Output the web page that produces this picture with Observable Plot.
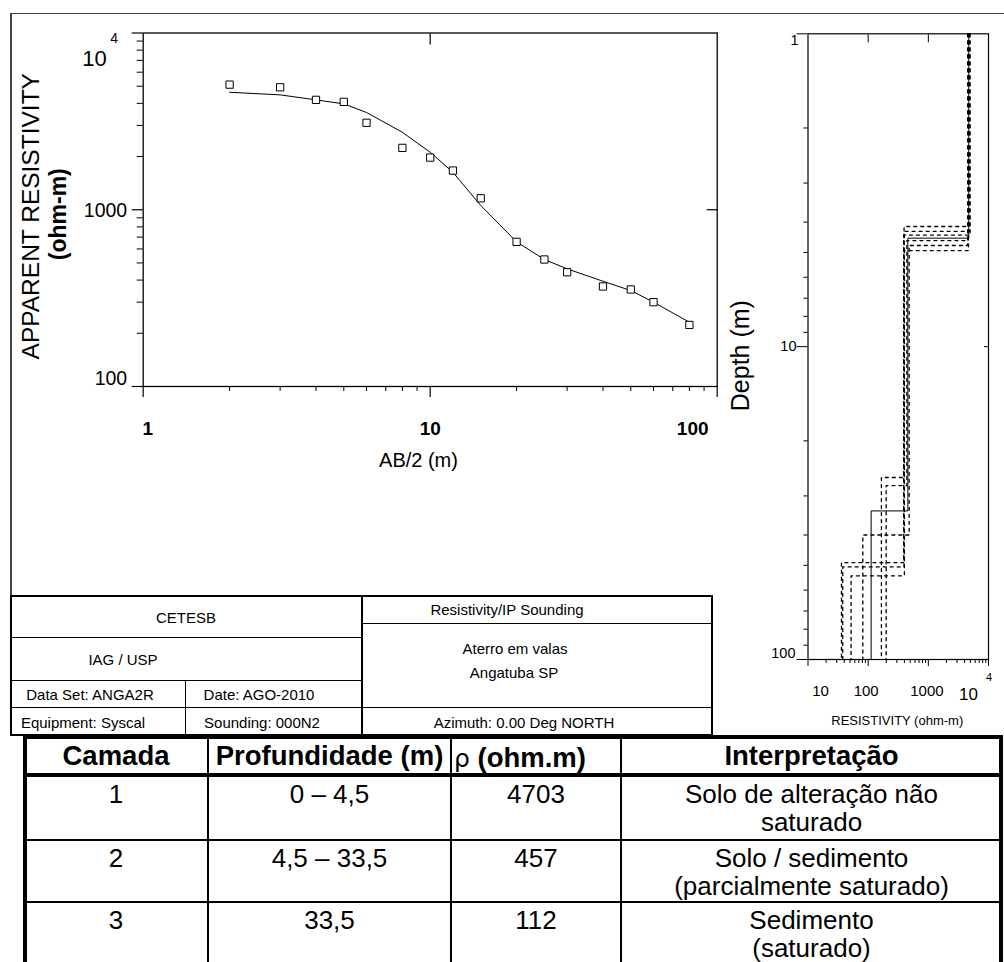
<!DOCTYPE html>
<html><head><meta charset="utf-8">
<script src="https://cdn.jsdelivr.net/npm/d3@7"></script>
<script src="https://cdn.jsdelivr.net/npm/@observablehq/plot@0.6"></script>
<style>
html,body{margin:0;padding:0;background:#fff;}
body{width:1004px;height:962px;overflow:hidden;}
#page{position:relative;width:1004px;height:962px;font-family:"Liberation Sans",Arial,sans-serif;color:#000;}
.abs{position:absolute;}
.t{position:absolute;white-space:nowrap;transform:translate(-50%,-50%);line-height:1;}
.tl{position:absolute;white-space:nowrap;transform:translate(0,-50%);line-height:1;}
.plotbox{position:absolute;}
</style></head><body>
<div id="page"></div>
<script>
// ---------------- data ----------------
// Sounding curve (left chart)
const abHalf      = [2, 3, 4, 5, 6, 8, 10, 12, 15, 20, 25, 30, 40, 50, 60, 80];
const rhoObserved = [5105, 4930, 4185, 4077, 3104, 2239, 1973, 1666, 1161, 658, 523, 443, 368, 354, 300, 223];
const rhoModel    = [4620, 4467, 4185, 3972, 3550, 2744, 2115, 1630, 1057, 658, 523, 463, 394, 349, 300, 231];

const abMajorTicks  = [1, 10, 100];
const abMinorTicks  = [2, 3, 4, 5, 6, 7, 8, 9, 20, 30, 40, 50, 60, 70, 80, 90];
const abTickLabels  = ["1", "10", "100"];
const rhoMajorTicks = [100, 1000, 10000];
const rhoMinorTicks = [200, 300, 400, 500, 600, 700, 800, 900, 2000, 3000, 4000, 5000, 6000, 7000, 8000, 9000];
const rhoTickLabels = ["100", "1000", "10"];   // 10 with superscript 4

// Layered model (right chart): best model + equivalent models
const modelNames  = ["best", "eq1", "eq2", "eq3", "eq4", "eq5", "eq6"];
const layerRho    = [[4703, 457, 112], [4600, 440, 199], [4850, 395, 166], [4500, 480, 81.5],
                     [4750, 395, 37.8], [4650, 400, 52], [4950, 390, 36]];
const layerBottom = [[4.5, 33.5], [4.58, 27.8], [4.28, 26.2], [4.75, 40],
                     [4.13, 50.6], [4.93, 54], [4.4, 49]];
const depthMajorTicks = [1, 10, 100];
const depthMinorTicks = [2, 3, 4, 5, 6, 7, 8, 9, 20, 30, 40, 50, 60, 70, 80, 90];
const depthTickLabels = ["1", "10", "100"];
const resMajorTicks = [10, 100, 1000, 10000];
const resMinorTicks = [20, 30, 40, 50, 60, 70, 80, 90, 200, 300, 400, 500, 600, 700, 800, 900,
                       2000, 3000, 4000, 5000, 6000, 7000, 8000, 9000];
const resTickLabels = ["10", "100", "1000", "10"];

// Info box
const infoLeft  = ["CETESB", "IAG / USP", "Data Set: ANGA2R", "Date: AGO-2010", "Equipment: Syscal", "Sounding: 000N2"];
const infoRight = ["Resistivity/IP Sounding", "Aterro em valas", "Angatuba SP", "Azimuth: 0.00 Deg NORTH"];

// Interpretation table
const tableHeader   = ["Camada", "Profundidade (m)", "(ohm.m)", "Interpretação"];
const camada        = ["1", "2", "3"];
const profundidade  = ["0 – 4,5", "4,5 – 33,5", "33,5"];
const rhoLayer      = ["4703", "457", "112"];
const interpretacao = [["Solo de alteração não", "saturado"], ["Solo / sedimento", "(parcialmente saturado)"], ["Sedimento", "(saturado)"]];

// ---------------- helpers ----------------
const FONT = '"Liberation Sans", Arial, sans-serif';
const page = document.getElementById("page");
function rect(x, y, w, h, color = "#000") {
  const d = document.createElement("div");
  d.className = "abs";
  Object.assign(d.style, {left: x + "px", top: y + "px", width: w + "px", height: h + "px", background: color});
  page.appendChild(d);
}
function txt(text, cx, cy, size, weight = "normal", cls = "t") {
  const d = document.createElement("div");
  d.className = cls;
  d.textContent = text;
  Object.assign(d.style, {left: cx + "px", top: cy + "px", fontSize: size + "px", fontWeight: weight});
  page.appendChild(d);
  return d;
}
const noText = () => "";

// ---------------- outer frame ----------------
rect(10, 12.5, 1000, 1.5, "#444");
rect(10, 12.5, 1.5, 583, "#444");

// ---------------- left chart ----------------
const sounding = abHalf.map((x, i) => ({x, obs: rhoObserved[i], mod: rhoModel[i]}));
const left = Plot.plot({
  width: 730, height: 480,
  marginLeft: 142.7, marginRight: 13.3, marginTop: 32.5, marginBottom: 94,
  style: {background: "transparent", fontFamily: FONT, color: "#000", overflow: "visible"},
  x: {type: "log", domain: [1, 100], axis: null},
  y: {type: "log", domain: [100, 10000], axis: null},
  marks: [
    Plot.frame({stroke: "#000", strokeWidth: 1.3}),
    Plot.axisY(rhoMajorTicks, {anchor: "left", tickSize: 11, tickFormat: noText, label: null, strokeWidth: 1.2}),
    Plot.axisY(rhoMinorTicks, {anchor: "left", tickSize: 6, tickFormat: noText, label: null}),
    Plot.axisY([1000], {anchor: "right", tickSize: -11, tickFormat: noText, label: null, strokeWidth: 1.2}),
    Plot.axisX(abMajorTicks, {anchor: "bottom", tickSize: 11, tickFormat: noText, label: null, strokeWidth: 1.2}),
    Plot.axisX(abMinorTicks, {anchor: "bottom", tickSize: 5, tickFormat: noText, label: null}),
    Plot.axisX([10], {anchor: "top", tickSize: -11, tickFormat: noText, label: null, strokeWidth: 1.2}),
    Plot.line(sounding, {x: "x", y: "mod", stroke: "#000", strokeWidth: 1}),
    Plot.dot(sounding, {x: "x", y: "obs", symbol: "square", r: 4.1, stroke: "#000", fill: "white", strokeWidth: 1}),
    // y tick labels
    Plot.text([rhoMajorTicks[0]], {y: d => d, frameAnchor: "left", text: () => rhoTickLabels[0], textAnchor: "end", dx: -16, dy: -8, fontSize: 19.5}),
    Plot.text([rhoMajorTicks[1]], {y: d => d, frameAnchor: "left", text: () => rhoTickLabels[1], textAnchor: "end", dx: -16, dy: 1, fontSize: 19.5}),
    Plot.text([rhoMajorTicks[2]], {y: d => d, frameAnchor: "left", text: () => rhoTickLabels[2], textAnchor: "middle", dx: -48.7, dy: 25.5, fontSize: 22}),
    Plot.text([rhoMajorTicks[2]], {y: d => d, frameAnchor: "left", text: () => "4", textAnchor: "middle", dx: -29, dy: 5.5, fontSize: 14}),
    // x tick labels
    Plot.text([abMajorTicks[0]], {x: d => d, frameAnchor: "bottom", text: () => abTickLabels[0], dx: 4.5, dy: 48, fontSize: 19, fontWeight: "bold"}),
    Plot.text([abMajorTicks[1]], {x: d => d, frameAnchor: "bottom", text: () => abTickLabels[1], dx: 0, dy: 48, fontSize: 19, fontWeight: "bold"}),
    Plot.text([abMajorTicks[2]], {x: d => d, frameAnchor: "bottom", text: () => abTickLabels[2], dx: -24.5, dy: 48, fontSize: 19, fontWeight: "bold"}),
    // axis titles
    Plot.text(["AB/2 (m)"], {frameAnchor: "bottom", text: d => d, textAnchor: "middle", dx: -11.7, dy: 80, fontSize: 20}),
    Plot.text(["APPARENT RESISTIVITY"], {frameAnchor: "left", text: d => d, textAnchor: "middle", rotate: -90, dx: -112.2, dy: 6.5, fontSize: 24.5}),
    Plot.text(["(ohm-m)"], {frameAnchor: "left", text: d => d, textAnchor: "middle", rotate: -90, dx: -84.2, dy: 4.5, fontSize: 23, fontWeight: "bold"})
  ]
});
const lbox = document.createElement("div");
lbox.className = "plotbox";
Object.assign(lbox.style, {left: "0px", top: "0px", width: "730px", height: "480px"});
lbox.appendChild(left);
page.appendChild(lbox);

// ---------------- right chart ----------------
const steps = [];
modelNames.forEach((m, i) => {
  const r = layerRho[i], b = layerBottom[i];
  steps.push({m, r: r[0], d: depthMajorTicks[0]}, {m, r: r[0], d: b[0]},
             {m, r: r[1], d: b[0]}, {m, r: r[1], d: b[1]},
             {m, r: r[2], d: b[1]}, {m, r: r[2], d: depthMajorTicks[2]});
});
const eqSteps = steps.filter(s => s.m !== "best");
const bestSteps = steps.filter(s => s.m === "best");
const right = Plot.plot({
  width: 284, height: 740,
  marginLeft: 87.5, marginRight: 16, marginTop: 33.3, marginBottom: 81,
  style: {background: "transparent", fontFamily: FONT, color: "#000", overflow: "visible"},
  x: {type: "log", domain: [10, 10000], axis: null},
  y: {type: "log", domain: [1, 100], reverse: true, axis: null},
  marks: [
    Plot.line(eqSteps, {x: "r", y: "d", z: "m", stroke: "#000", strokeWidth: 1.3, strokeDasharray: "3,4"}),
    Plot.line(bestSteps, {x: "r", y: "d", stroke: "#000", strokeWidth: 1}),
    Plot.frame({stroke: "#000", strokeWidth: 1.2}),
    Plot.axisY(depthMajorTicks, {anchor: "left", tickSize: 11, tickFormat: noText, label: null}),
    Plot.axisY(depthMinorTicks, {anchor: "left", tickSize: 4, tickFormat: noText, label: null}),
    Plot.axisY([10], {anchor: "right", tickSize: -5, tickFormat: noText, label: null}),
    Plot.axisX([100, 1000], {anchor: "top", tickSize: -8, tickFormat: noText, label: null}),
    Plot.axisX(resMajorTicks, {anchor: "bottom", tickSize: 7, tickFormat: noText, label: null}),
    Plot.axisX(resMinorTicks, {anchor: "bottom", tickSize: 4, tickFormat: noText, label: null}),
    // y labels
    Plot.text([depthMajorTicks[0]], {y: d => d, frameAnchor: "left", text: () => depthTickLabels[0], textAnchor: "end", dx: -9.5, dy: 7, fontSize: 14.5}),
    Plot.text([depthMajorTicks[1]], {y: d => d, frameAnchor: "left", text: () => depthTickLabels[1], textAnchor: "end", dx: -11.5, dy: 0, fontSize: 14.5}),
    Plot.text([depthMajorTicks[2]], {y: d => d, frameAnchor: "left", text: () => depthTickLabels[2], textAnchor: "end", dx: -12.5, dy: -6, fontSize: 14.5}),
    // x labels
    Plot.text([resMajorTicks[0]], {x: d => d, frameAnchor: "bottom", text: () => resTickLabels[0], textAnchor: "middle", dx: 12.5, dy: 36, fontSize: 15}),
    Plot.text([resMajorTicks[1]], {x: d => d, frameAnchor: "bottom", text: () => resTickLabels[1], textAnchor: "middle", dx: -2, dy: 36, fontSize: 15}),
    Plot.text([resMajorTicks[2]], {x: d => d, frameAnchor: "bottom", text: () => resTickLabels[2], textAnchor: "middle", dx: -1.4, dy: 36, fontSize: 15}),
    Plot.text([resMajorTicks[3]], {x: d => d, frameAnchor: "bottom", text: () => resTickLabels[3], textAnchor: "middle", dx: -20, dy: 40, fontSize: 17}),
    Plot.text([resMajorTicks[3]], {x: d => d, frameAnchor: "bottom", text: () => "4", textAnchor: "middle", dx: 0.5, dy: 21, fontSize: 11}),
    // titles
    Plot.text(["Depth (m)"], {frameAnchor: "left", text: d => d, textAnchor: "middle", rotate: -90, dx: -67.5, dy: 9, fontSize: 25}),
    Plot.text(["RESISTIVITY (ohm-m)"], {frameAnchor: "bottom", text: d => d, textAnchor: "middle", dx: -1, dy: 65, fontSize: 13})
  ]
});
const rbox = document.createElement("div");
rbox.className = "plotbox";
Object.assign(rbox.style, {left: "720px", top: "0px", width: "284px", height: "740px"});
rbox.appendChild(right);
page.appendChild(rbox);

// ---------------- info box ----------------
rect(10, 594.5, 702, 2);      // top
rect(10, 594.5, 2, 141);      // left
rect(710.5, 594.5, 2, 141);   // right
rect(10, 733.5, 702, 2);      // bottom
rect(360.5, 594.5, 2.5, 141); // middle
rect(10, 636.5, 351, 1.5);
rect(10, 679.5, 351, 1.5);
rect(10, 706.5, 351, 1.5);
rect(184.5, 679.5, 1.5, 56);
rect(361, 622.5, 351, 1.5);
rect(361, 706.5, 351, 1.5);
const infoLeftPos  = [[186, 616.5], [123, 659], [90, 694], [259, 694], [83, 721.5], [262, 721.5]];
const infoRightPos = [[507, 609], [515, 648], [514, 672], [524, 721.5]];
infoLeft.forEach((s, i) => txt(s, infoLeftPos[i][0], infoLeftPos[i][1], 15));
infoRight.forEach((s, i) => txt(s, infoRightPos[i][0], infoRightPos[i][1], 15));

// ---------------- interpretation table ----------------
rect(22.7, 735, 4, 240);       // left border
rect(999, 735, 4, 240);        // right border
rect(22.7, 735, 980.3, 4);     // top
rect(22.7, 773, 980.3, 4);     // header bottom
rect(22.7, 839, 980.3, 2);
rect(22.7, 901, 980.3, 2);
rect(206.7, 735, 2, 240);
rect(450, 735, 2, 240);
rect(620, 735, 2, 240);
const colCenters = [116, 329.5, 536, 811.5];
const hy = 756;
txt(tableHeader[0], colCenters[0], hy, 27.5, "bold");
txt(tableHeader[1], colCenters[1], hy, 27.5, "bold");
const rh = txt("", 454, hy + 2, 27.5, "bold", "tl");
rh.innerHTML = '<span style="font-weight:normal;font-family:\'DejaVu Sans\',sans-serif;font-size:25px">ρ</span> ' + tableHeader[2];
txt(tableHeader[3], colCenters[3], hy, 27.5, "bold");
const rowTops = [777, 841, 903];
rowTops.forEach((top, i) => {
  const y1 = top + 17, y2 = y1 + 28;
  txt(camada[i], colCenters[0], y1, 26);
  txt(profundidade[i], colCenters[1], y1, 26);
  txt(rhoLayer[i], colCenters[2], y1, 26);
  txt(interpretacao[i][0], colCenters[3], y1, 26);
  txt(interpretacao[i][1], colCenters[3], y2, 26);
});
</script></body></html>
